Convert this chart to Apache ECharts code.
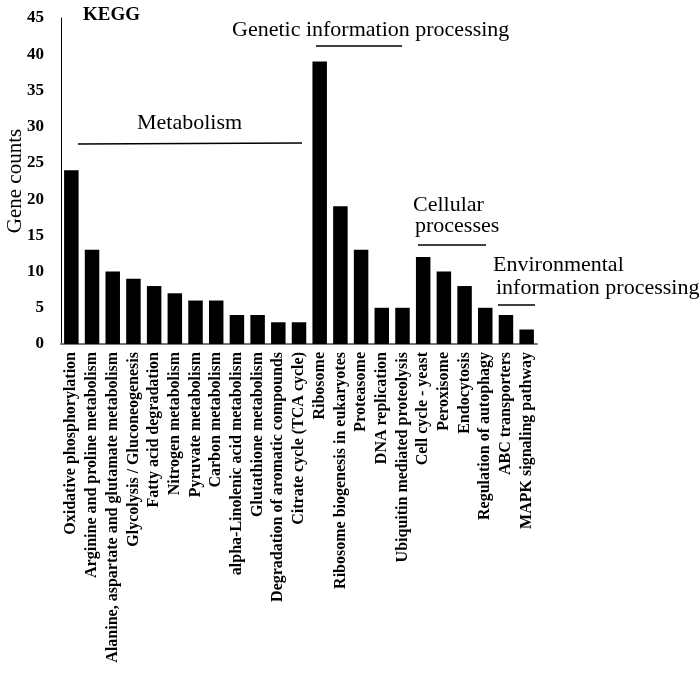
<!DOCTYPE html>
<html>
<head>
<meta charset="utf-8">
<script src="https://cdn.jsdelivr.net/npm/echarts@6/dist/echarts.min.js"></script>
<style>html,body{margin:0;padding:0;background:#fff}#c{width:700px;height:681px}</style>
</head>
<body>
<div id="c"></div>
<script>
const categories = [
  "Oxidative phosphorylation",
  "Arginine and proline metabolism",
  "Alanine, aspartate and glutamate metabolism",
  "Glycolysis / Gluconeogenesis",
  "Fatty acid degradation",
  "Nitrogen metabolism",
  "Pyruvate metabolism",
  "Carbon metabolism",
  "alpha-Linolenic acid metabolism",
  "Glutathione metabolism",
  "Degradation of aromatic compounds",
  "Citrate cycle (TCA cycle)",
  "Ribosome",
  "Ribosome biogenesis in eukaryotes",
  "Proteasome",
  "DNA replication",
  "Ubiquitin mediated proteolysis",
  "Cell cycle - yeast",
  "Peroxisome",
  "Endocytosis",
  "Regulation of autophagy",
  "ABC transporters",
  "MAPK signaling pathway"
];
const geneCounts = [24, 13, 10, 9, 8, 7, 6, 6, 4, 4, 3, 3, 39, 19, 13, 5, 5, 12, 10, 8, 5, 4, 2];
const yTicks = {min: 0, max: 45, interval: 5};
const yTitle = 'Gene counts';

const serif = "'Liberation Serif', 'Times New Roman', serif";
const annFont = '22px ' + serif;
const chart = echarts.init(document.getElementById('c'));
chart.setOption({
  animation: false,
  backgroundColor: '#fff',
  grid: {left: 61, right: 163, top: 18, bottom: 337, outerBoundsMode: 'none', containLabel: false},
  xAxis: {
    type: 'category',
    data: categories,
    axisLine: {lineStyle: {color: '#777', width: 2}},
    axisTick: {show: false},
    axisLabel: {interval: 0, rotate: 90, margin: 8, color: '#000', fontFamily: serif, fontWeight: 'bold', fontSize: 16}
  },
  yAxis: {
    type: 'value',
    min: yTicks.min, max: yTicks.max, interval: yTicks.interval,
    axisLine: {show: true, lineStyle: {color: '#000', width: 1}},
    axisTick: {show: false},
    splitLine: {show: false},
    axisLabel: {margin: 17, color: '#000', fontFamily: serif, fontWeight: 'bold', fontSize: 17}
  },
  series: [{
    type: 'bar',
    data: geneCounts,
    barCategoryGap: '30%',
    itemStyle: {color: '#000'}
  }],
  graphic: [
    {type: 'text', x: 15, y: 181, rotation: Math.PI / 2, style: {text: yTitle, font: '21px ' + serif, fill: '#000', align: 'center', verticalAlign: 'middle'}},
    {type: 'text', x: 83, y: 15, style: {text: 'KEGG', font: 'bold 19px ' + serif, fill: '#000', verticalAlign: 'middle'}},
    {type: 'text', x: 232, y: 30, style: {text: 'Genetic information processing', font: annFont, fill: '#000', verticalAlign: 'middle'}},
    {type: 'line', shape: {x1: 316, y1: 46, x2: 402, y2: 46}, style: {stroke: '#000', lineWidth: 1.5}},
    {type: 'text', x: 137, y: 123, style: {text: 'Metabolism', font: annFont, fill: '#000', verticalAlign: 'middle'}},
    {type: 'line', shape: {x1: 78, y1: 144, x2: 302, y2: 143}, style: {stroke: '#000', lineWidth: 1.5}},
    {type: 'text', x: 413, y: 205, style: {text: 'Cellular', font: annFont, fill: '#000', verticalAlign: 'middle'}},
    {type: 'text', x: 415, y: 226, style: {text: 'processes', font: annFont, fill: '#000', verticalAlign: 'middle'}},
    {type: 'line', shape: {x1: 418, y1: 245, x2: 486, y2: 245}, style: {stroke: '#000', lineWidth: 1.5}},
    {type: 'text', x: 493, y: 265, style: {text: 'Environmental', font: annFont, fill: '#000', verticalAlign: 'middle'}},
    {type: 'text', x: 496, y: 288, style: {text: 'information processing', font: annFont, fill: '#000', verticalAlign: 'middle'}},
    {type: 'line', shape: {x1: 498, y1: 305, x2: 535, y2: 305}, style: {stroke: '#000', lineWidth: 1.5}}
  ]
});
</script>
</body>
</html>
